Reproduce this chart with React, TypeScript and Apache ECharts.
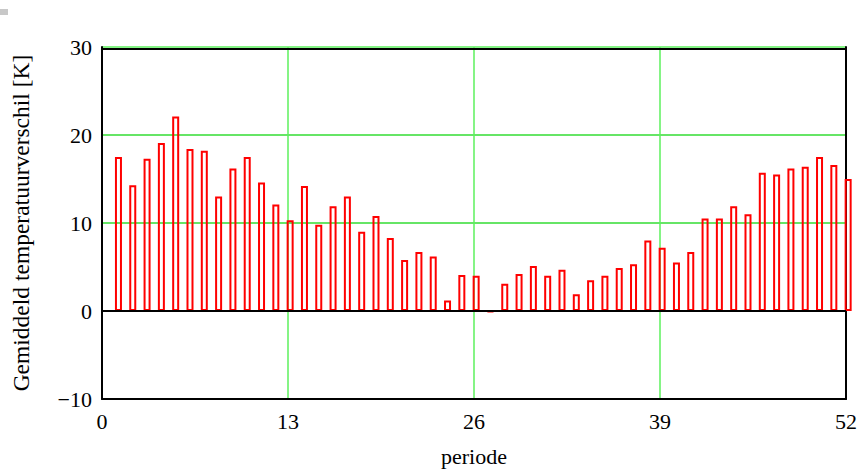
import React, { useEffect, useRef } from "react";
import * as echarts from "echarts";

const periods: number[] = [
  1, 2, 3, 4, 5, 6, 7, 8, 9, 10, 11, 12, 13, 14, 15, 16, 17, 18, 19, 20, 21, 22, 23, 24, 25, 26,
  27, 28, 29, 30, 31, 32, 33, 34, 35, 36, 37, 38, 39, 40, 41, 42, 43, 44, 45, 46, 47, 48, 49, 50, 51, 52,
];
const tempDiff: number[] = [
  17.5, 14.3, 17.3, 19.1, 22.1, 18.4, 18.2, 13.0, 16.2, 17.5, 14.6, 12.1, 10.3,
  14.2, 9.8, 11.9, 13.0, 9.0, 10.8, 8.3, 5.8, 6.7, 6.2, 1.2, 4.1, 4.0,
  -0.1, 3.1, 4.2, 5.1, 4.0, 4.7, 1.9, 3.5, 4.0, 4.9, 5.3, 8.0, 7.2,
  5.5, 6.7, 10.5, 10.5, 11.9, 11.0, 15.7, 15.5, 16.2, 16.4, 17.5, 16.6, 15.0,
];
const xTicks: number[] = [0, 13, 26, 39, 52];
const yTicks: number[] = [-10, 0, 10, 20, 30];

const FONT = "'Liberation Serif', 'Times New Roman', serif";

export default function App() {
  const ref = useRef<HTMLDivElement>(null);
  useEffect(() => {
    if (!ref.current) return;
    const chart = echarts.init(ref.current, undefined, { renderer: "svg" });
    const data = periods.map((p, i) => [p, tempDiff[i]]);
    const green = "#33dd33";
    const vgreen = "#5cf05c";
    const none = "rgba(0,0,0,0)";
    chart.setOption({
      animation: false,
      backgroundColor: "#ffffff",
      textStyle: { fontFamily: FONT },
      grid: { left: 102, right: 17, top: 47, bottom: 71, containLabel: false },
      graphic: [
        { type: "rect", left: 0, top: 9, shape: { width: 8, height: 6 }, style: { fill: "#c8c8c8" } },
      ],
      xAxis: [
        {
          type: "value",
          min: xTicks[0],
          max: xTicks[xTicks.length - 1],
          interval: 13,
          name: "periode",
          nameLocation: "middle",
          nameGap: 46,
          nameTextStyle: { fontFamily: FONT, fontSize: 22, color: "#000" },
          axisLine: { show: true, onZero: false, lineStyle: { color: "#000", width: 2 } },
          axisTick: { show: false },
          axisLabel: { fontFamily: FONT, fontSize: 22, color: "#000", margin: 11 },
          splitLine: {
            show: true,
            lineStyle: { color: [none, vgreen, vgreen, vgreen, none], width: 1.5, type: "solid" },
          },
        },
        {
          type: "value",
          position: "top",
          offset: -2,
          min: 0,
          max: 52,
          axisLine: { show: true, onZero: false, lineStyle: { color: "#000", width: 2 } },
          axisTick: { show: false },
          axisLabel: { show: false },
          splitLine: { show: false },
        },
        {
          type: "value",
          show: false,
          min: -0.15,
          max: 51.85,
          splitLine: { show: false },
        },
      ],
      yAxis: [
        {
          type: "value",
          min: yTicks[0],
          max: yTicks[yTicks.length - 1],
          interval: 10,
          name: "Gemiddeld temperatuurverschil [K]",
          nameLocation: "middle",
          nameGap: 69,
          nameTextStyle: { fontFamily: FONT, fontSize: 23.5, color: "#000" },
          axisLine: { show: true, onZero: false, lineStyle: { color: "#000", width: 2 } },
          axisTick: { show: false },
          axisLabel: {
            fontFamily: FONT,
            fontSize: 22,
            color: "#000",
            margin: 10,
            formatter: (v: number) => (v < 0 ? "\u2212" + Math.abs(v) : String(v)),
          },
          splitLine: {
            show: true,
            lineStyle: { color: [none, green, green, green, vgreen], width: 1.5, type: "solid" },
          },
        },
        {
          type: "value",
          position: "right",
          min: -10,
          max: 30,
          interval: 10,
          axisLine: { show: true, onZero: false, lineStyle: { color: "#000", width: 2 } },
          axisTick: { show: false },
          axisLabel: { show: false },
          splitLine: { show: false },
        },
      ],
      series: [
        {
          type: "bar",
          xAxisIndex: 2,
          yAxisIndex: 0,
          data,
          barWidth: 7,
          clip: true,
          itemStyle: { color: "rgba(255,255,255,0)", borderColor: "#ff0000", borderWidth: 2 },
          markLine: {
            silent: true,
            symbol: "none",
            label: { show: false },
            lineStyle: { color: "#000", width: 2, type: "solid" },
            data: [{ yAxis: 0 }],
          },
          z: 3,
        },
      ],
    });
    return () => chart.dispose();
  }, []);
  return (
    <div
      ref={ref}
      style={{ position: "fixed", left: 0, top: 0, width: 863, height: 472 }}
    />
  );
}
